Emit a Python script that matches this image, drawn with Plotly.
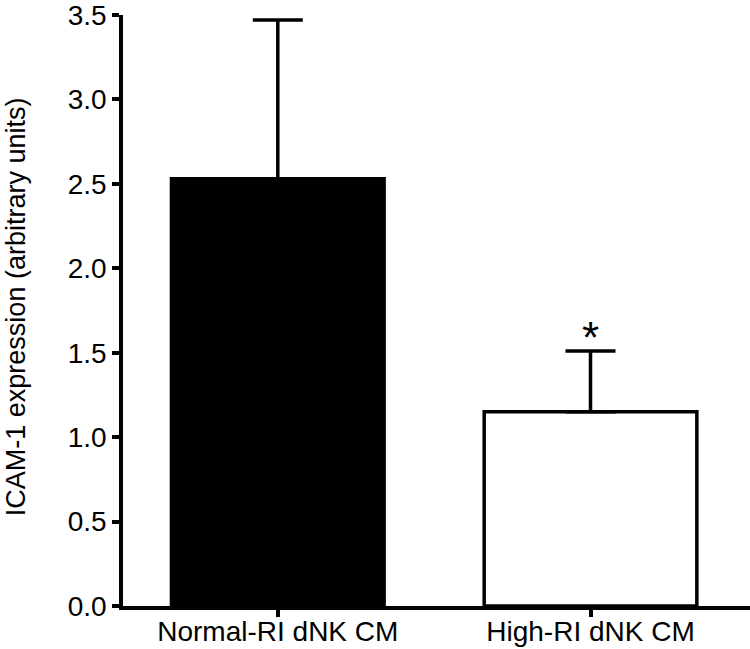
import plotly.graph_objects as go

categories = ["Normal-RI dNK CM", "High-RI dNK CM"]
means = [2.53, 1.15]
sem = [0.94, 0.36]
bar_colors = ["black", "white"]
y_ticks = [0.0, 0.5, 1.0, 1.5, 2.0, 2.5, 3.0, 3.5]
significance = ["", "*"]

FONT = "Liberation Sans, Arial, sans-serif"

fig = go.Figure()
fig.add_trace(go.Bar(
    x=categories,
    y=means,
    width=0.68,
    marker=dict(color=bar_colors, line=dict(color="black", width=3.5)),
    error_y=dict(type="data", symmetric=False, array=sem,
                 arrayminus=[0] * len(sem), color="black",
                 thickness=3.5, width=25),
    showlegend=False,
))

for cat, m, s, sig in zip(categories, means, sem, significance):
    if sig:
        fig.add_annotation(x=cat, y=m + s, text=sig, showarrow=False,
                           yanchor="bottom", yshift=-13,
                           font=dict(family=FONT, size=44, color="black"))

fig.add_annotation(
    xref="paper", yref="paper", x=-0.1703, y=0.506,
    text="ICAM-1 expression (arbitrary units)", textangle=-90,
    showarrow=False, xanchor="center", yanchor="middle",
    font=dict(family=FONT, size=27, color="black"),
)

fig.update_layout(
    width=750, height=649,
    margin=dict(l=123, r=0, t=11, b=43),
    paper_bgcolor="white", plot_bgcolor="white",
    font=dict(family=FONT, size=28, color="black"),
    xaxis=dict(range=[-0.495, 1.51], showline=True, linewidth=3.5,
               linecolor="black", ticks="outside", ticklen=7,
               tickwidth=3.5, tickcolor="black", showgrid=False,
               zeroline=False, tickfont=dict(size=28),
               ticklabelstandoff=-9, ticklabeloverflow="allow"),
    yaxis=dict(range=[0, 3.5], tickvals=y_ticks, tickformat=".1f",
               showline=True, linewidth=3.5, linecolor="black",
               ticks="outside", ticklen=7, tickwidth=3.5,
               tickcolor="black", showgrid=False, zeroline=False,
               tickfont=dict(size=28), ticklabeloverflow="allow"),
)

fig.write_html("out.html",
               config={"displayModeBar": False},
               post_script="document.body.style.margin='0';")
